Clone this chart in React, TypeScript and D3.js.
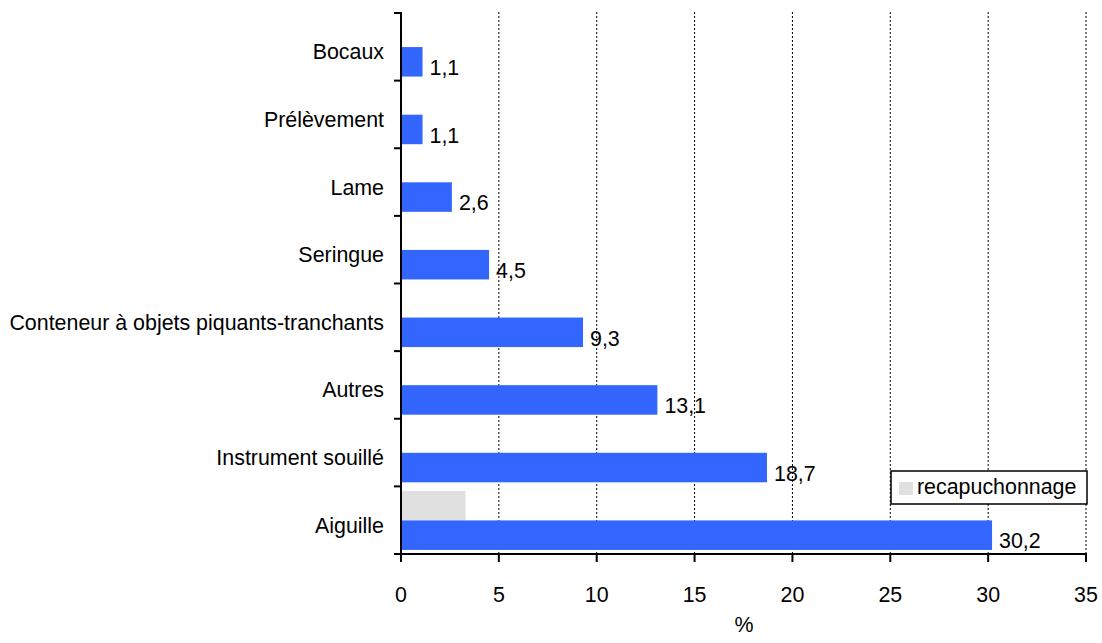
import React from "react";
import * as d3 from "d3";

const categories = [
  "Bocaux",
  "Prélèvement",
  "Lame",
  "Seringue",
  "Conteneur à objets piquants-tranchants",
  "Autres",
  "Instrument souillé",
  "Aiguille",
];
const mainValues = [1.1, 1.1, 2.6, 4.5, 9.3, 13.1, 18.7, 30.2];
const recapValues = [null, null, null, null, null, null, null, 3.3];
const xTicks = [0, 5, 10, 15, 20, 25, 30, 35];
const legendLabel = "recapuchonnage";
const xTitle = "%";

const W = 1102;
const H = 643;
const FONT = "'Liberation Sans', Arial, sans-serif";
const FS = 21.4;
const BLUE = "#3366FF";
const GREY = "#E0E0E0";

const locale = d3.formatLocale({ decimal: ",", thousands: " ", grouping: [3], currency: ["", "€"] });
const fmt = locale.format(".1f");

export default function App() {
  const x = d3.scaleLinear().domain([0, 35]).range([401, 1086]);
  const y = d3.scaleBand<string>().domain(categories).range([13, 554]).padding(0);
  const bw = y.bandwidth();
  const inner = d3
    .scaleBand<string>()
    .domain(["recap", "main"])
    .range([bw * 0.067, bw * 0.94])
    .padding(0);
  const ibw = inner.bandwidth();
  const top = 12;
  const bottom = 554;
  const boundaries = categories.map((c) => y(c) as number).concat([bottom]);

  return (
    <svg width={W} height={H} style={{ position: "absolute", left: 0, top: 0, background: "#fff" }}
      fontFamily={FONT}>
      <rect x={0} y={0} width={W} height={H} fill="#fff" />
      {/* gridlines */}
      {xTicks.slice(1).map((t) => (
        <line key={"g" + t} x1={x(t)} x2={x(t)} y1={top} y2={bottom} stroke="#000"
          strokeWidth={1} strokeDasharray="2,2" />
      ))}
      {/* bars */}
      {categories.map((c, i) => {
        const y0 = y(c) as number;
        const rv = recapValues[i];
        const mv = mainValues[i];
        return (
          <g key={c}>
            {rv != null && (
              <rect x={x(0)} y={y0 + (inner("recap") as number)} width={x(rv) - x(0)} height={ibw} fill={GREY} />
            )}
            <rect x={x(0)} y={y0 + (inner("main") as number)} width={x(mv) - x(0)} height={ibw} fill={BLUE} />
            <text x={x(mv) + 7} y={y0 + (inner("main") as number) + ibw - 1.5} fontSize={FS} fill="#000">
              {fmt(mv)}
            </text>
            <text x={384} y={y0 + bw / 2 + 12.5} fontSize={FS} textAnchor="end" fill="#000">
              {c}
            </text>
          </g>
        );
      })}
      {/* y axis */}
      <line x1={x(0)} x2={x(0)} y1={top} y2={bottom + 1} stroke="#000" strokeWidth={2} />
      {boundaries.map((b, i) => (
        <line key={"yt" + i} x1={x(0) - 7} x2={x(0)} y1={b} y2={b} stroke="#000" strokeWidth={2} />
      ))}
      {/* x axis */}
      <line x1={x(0) - 1} x2={x(35) + 1} y1={bottom} y2={bottom} stroke="#000" strokeWidth={2} />
      {xTicks.map((t) => (
        <g key={"xt" + t}>
          <line x1={x(t)} x2={x(t)} y1={bottom} y2={bottom + 8} stroke="#000" strokeWidth={2} />
          <text x={x(t)} y={602} fontSize={FS} textAnchor="middle" fill="#000">
            {t}
          </text>
        </g>
      ))}
      <text x={744} y={632} fontSize={FS} textAnchor="middle" fill="#000">
        {xTitle}
      </text>
      {/* legend */}
      <rect x={891} y={471} width={196} height={33} fill="#fff" stroke="#000" strokeWidth={1.5} />
      <rect x={899} y={482} width={14} height={13} fill={GREY} />
      <text x={917} y={494} fontSize={FS} fill="#000">
        {legendLabel}
      </text>
    </svg>
  );
}
